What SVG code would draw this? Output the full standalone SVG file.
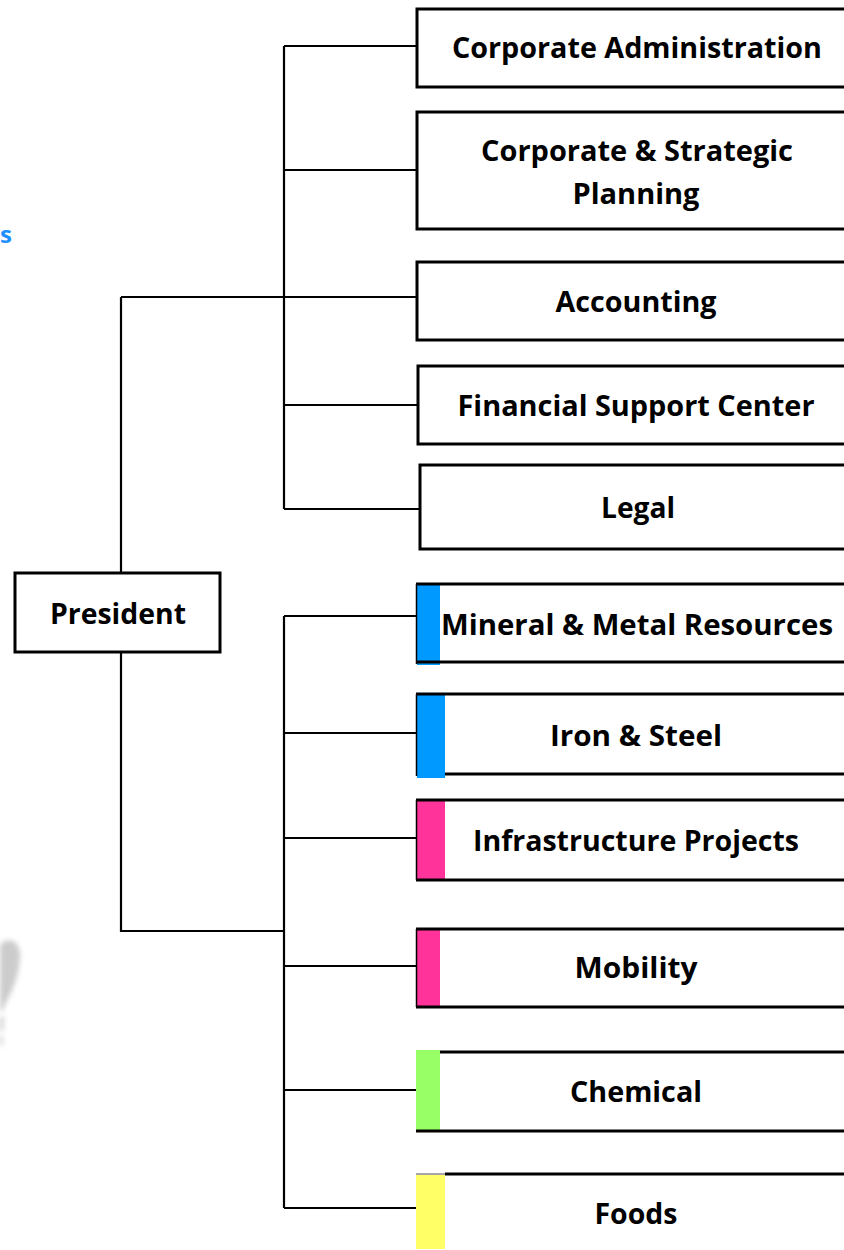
<svg xmlns="http://www.w3.org/2000/svg" width="844" height="1250" viewBox="0 0 844 1250">
<style>
.box{fill:#fff;stroke:#000;stroke-width:3}
.ln{fill:none;stroke:#000;stroke-width:2.2}
.edge{fill:none;stroke:#000;stroke-width:3}
.t{font-family:"Open Sans","Liberation Sans",sans-serif;font-weight:bold;font-size:28px;fill:#000;text-anchor:middle}
</style>
<defs><filter id="blur" x="-50%" y="-50%" width="200%" height="200%"><feGaussianBlur stdDeviation="2.5"/></filter></defs>
<rect width="844" height="1250" fill="#fff"/>
<text x="0" y="243" font-family="Open Sans, sans-serif" font-weight="bold" font-size="24" fill="#1e90ff">s</text>
<g filter="url(#blur)" fill="#cccccc">
<path d="M0,945 C7,936 20,940 20,955 C20,972 13,990 7,1000 L3,1010 L0,1012 Z"/>
<path d="M0,1018 L4,1016 L3,1030 L0,1032 Z"/>
<path d="M0,1036 L3,1036 L2,1046 L0,1046 Z"/>
</g>
<g id="connectors">
<path class="ln" d="M284,46 V509 M284,46 H417 M284,170 H417 M121,297 H417 M284,405 H417 M284,509 H420 M121,297 V573"/>
<path class="ln" d="M121,652 V931 H284 M284,616 V1208 M284,616 H417 M284,733 H417 M284,838 H417 M284,966 H417 M284,1090 H417 M284,1208 H417"/>
</g>
<g id="president"><rect class="box" x="15" y="573" width="205" height="79"/><text class="t" x="118" y="624" textLength="136" lengthAdjust="spacingAndGlyphs">President</text></g>
<g id="corp-admin"><rect class="box" x="417" y="9" width="440" height="78"/><text class="t" x="637" y="58" textLength="370" lengthAdjust="spacingAndGlyphs">Corporate Administration</text></g>
<g id="corp-strategic"><rect class="box" x="417" y="112" width="440" height="117"/><text class="t" x="637" y="161" textLength="312" lengthAdjust="spacingAndGlyphs">Corporate &amp; Strategic</text><text class="t" x="636" y="204" textLength="127" lengthAdjust="spacingAndGlyphs">Planning</text></g>
<g id="accounting"><rect class="box" x="417" y="262" width="440" height="78"/><text class="t" x="636" y="312" textLength="161" lengthAdjust="spacingAndGlyphs">Accounting</text></g>
<g id="financial"><rect class="box" x="418" y="366" width="440" height="78"/><text class="t" x="636" y="416" textLength="357" lengthAdjust="spacingAndGlyphs">Financial Support Center</text></g>
<g id="legal"><rect class="box" x="420" y="465" width="440" height="84"/><text class="t" x="638" y="518" textLength="74" lengthAdjust="spacingAndGlyphs">Legal</text></g>
<g id="mineral"><rect x="417" y="584" width="23" height="81" fill="#0099ff"/><path class="edge" d="M416,584 H844 M416,662 H844"/><path d="M416.5,584 V664" stroke="#000" stroke-width="1.5"/><text class="t" x="637" y="635" textLength="392" lengthAdjust="spacingAndGlyphs">Mineral &amp; Metal Resources</text></g>
<g id="iron"><rect x="417" y="694" width="28" height="84" fill="#0099ff"/><path class="edge" d="M416,694 H844 M445,774 H844"/><path d="M416.5,694 V776" stroke="#000" stroke-width="1.5"/><text class="t" x="636" y="746" textLength="172" lengthAdjust="spacingAndGlyphs">Iron &amp; Steel</text></g>
<g id="infra"><rect x="417" y="800" width="28" height="80" fill="#ff3399"/><path class="edge" d="M416,800 H844 M416,880 H844"/><path d="M416.5,800 V880" stroke="#000" stroke-width="1.5"/><text class="t" x="636" y="851" textLength="326" lengthAdjust="spacingAndGlyphs">Infrastructure Projects</text></g>
<g id="mobility"><rect x="417" y="929" width="23" height="78" fill="#ff3399"/><path class="edge" d="M416,929 H844 M416,1007 H844"/><path d="M416.5,929 V1007" stroke="#000" stroke-width="1.5"/><text class="t" x="636" y="978" textLength="123" lengthAdjust="spacingAndGlyphs">Mobility</text></g>
<g id="chemical"><rect x="416" y="1050" width="24" height="82" fill="#99ff66"/><path class="edge" d="M440,1052 H844 M416,1131 H844"/><text class="t" x="636" y="1102" textLength="132" lengthAdjust="spacingAndGlyphs">Chemical</text></g>
<g id="foods"><rect x="416" y="1175" width="29" height="74" fill="#ffff66"/><path d="M416,1174 H445" stroke="#888" stroke-width="1.5"/><path class="edge" d="M445,1174 H844"/><text class="t" x="636" y="1224" textLength="83" lengthAdjust="spacingAndGlyphs">Foods</text></g>
</svg>
